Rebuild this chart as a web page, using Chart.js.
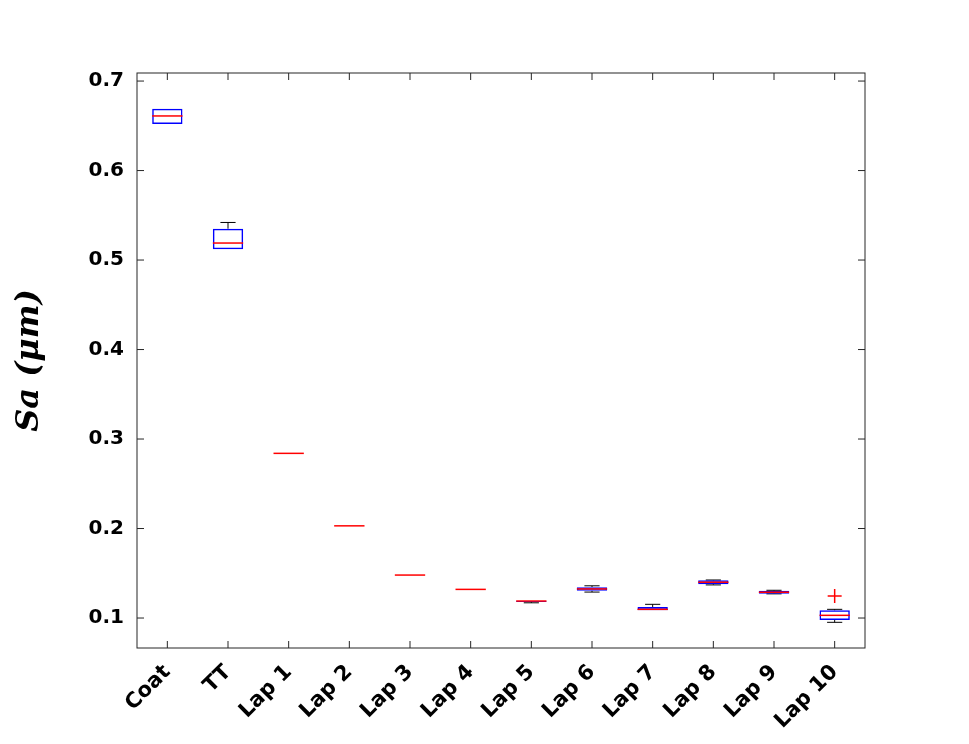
<!DOCTYPE html>
<html>
<head>
<meta charset="utf-8">
<script src="https://cdn.jsdelivr.net/npm/chart.js@4"></script>
<style>
  html, body { margin: 0; padding: 0; background: #fff; }
  #wrap { width: 969px; height: 744px; position: relative; }
</style>
</head>
<body>
<div id="wrap"><canvas id="boxChart"></canvas></div>
<script>
// box plot of Sa per stage
const categories = ['Coat', 'TT', 'Lap 1', 'Lap 2', 'Lap 3', 'Lap 4', 'Lap 5', 'Lap 6', 'Lap 7', 'Lap 8', 'Lap 9', 'Lap 10'];
const whiskerLow  = [0.652, 0.512, 0.284, 0.203, 0.148, 0.132, 0.117, 0.129,  0.1086, 0.137,  0.127,  0.0952];
const q1          = [0.652, 0.512, 0.284, 0.203, 0.148, 0.132, 0.118, 0.1305, 0.1086, 0.1377, 0.1272, 0.0978];
const medians     = [0.661, 0.519, 0.284, 0.203, 0.148, 0.132, 0.119, 0.1325, 0.1097, 0.140,  0.1288, 0.103];
const q3          = [0.669, 0.535, 0.284, 0.203, 0.148, 0.132, 0.119, 0.1345, 0.1123, 0.1421, 0.1305, 0.1086];
const whiskerHigh = [0.669, 0.542, 0.284, 0.203, 0.148, 0.132, 0.119, 0.136,  0.1153, 0.1425, 0.131,  0.1097];
const outliers    = [null, null, null, null, null, null, null, null, null, null, null, 0.1246];
const yTicks = [0.1, 0.2, 0.3, 0.4, 0.5, 0.6, 0.7];

const boxPlugin = {
    id: 'boxParts',
    beforeDatasetsDraw(chart) {
        // whiskers + caps, under the boxes
        const ctx = chart.ctx, x = chart.scales.x, y = chart.scales.y;
        const bars = chart.getDatasetMeta(0).data;
        ctx.save();
        ctx.strokeStyle = '#000';
        ctx.lineWidth = 1;
        categories.forEach(function(c, i) {
            const cx = x.getPixelForValue(i);
            const half = bars[i].width / 4;
            const yl = y.getPixelForValue(whiskerLow[i]), yq1 = y.getPixelForValue(q1[i]);
            const yh = y.getPixelForValue(whiskerHigh[i]), yq3 = y.getPixelForValue(q3[i]);
            ctx.beginPath();
            if (whiskerHigh[i] > q3[i]) {
                ctx.moveTo(cx, yq3); ctx.lineTo(cx, yh);
                ctx.moveTo(cx - half, yh); ctx.lineTo(cx + half, yh);
            }
            if (whiskerLow[i] < q1[i]) {
                ctx.moveTo(cx, yq1); ctx.lineTo(cx, yl);
                ctx.moveTo(cx - half, yl); ctx.lineTo(cx + half, yl);
            }
            ctx.stroke();
        });
        ctx.restore();
    },
    afterDatasetsDraw(chart) {
        const ctx = chart.ctx, x = chart.scales.x, y = chart.scales.y;
        const bars = chart.getDatasetMeta(0).data;
        const a = chart.chartArea;
        ctx.save();
        // medians
        ctx.strokeStyle = '#ff0000';
        ctx.lineWidth = 1.5;
        categories.forEach(function(c, i) {
            const cx = x.getPixelForValue(i);
            const half = bars[i].width / 2;
            const ym = y.getPixelForValue(medians[i]);
            ctx.beginPath();
            ctx.moveTo(cx - half, ym); ctx.lineTo(cx + half, ym);
            ctx.stroke();
        });
        // frame and inward ticks
        ctx.strokeStyle = '#262626';
        ctx.lineWidth = 1;
        ctx.strokeRect(a.left, a.top, a.right - a.left, a.bottom - a.top);
        const t = 7;
        ctx.beginPath();
        x.ticks.forEach(function(tk, i) {
            const px = x.getPixelForTick(i);
            ctx.moveTo(px, a.bottom); ctx.lineTo(px, a.bottom - t);
            ctx.moveTo(px, a.top); ctx.lineTo(px, a.top + t);
        });
        y.ticks.forEach(function(tk) {
            const py = y.getPixelForValue(tk.value);
            ctx.moveTo(a.left, py); ctx.lineTo(a.left + t, py);
            ctx.moveTo(a.right, py); ctx.lineTo(a.right - t, py);
        });
        ctx.stroke();
        ctx.restore();
    }
};

new Chart(document.getElementById('boxChart'), {
    data: {
        labels: categories,
        datasets: [{
            type: 'bar',
            label: 'box',
            data: q1.map(function(v, i) { return [v, q3[i]]; }),
            backgroundColor: 'rgba(0,0,0,0)',
            borderColor: '#0000ff',
            borderWidth: 1.5,
            borderSkipped: false,
            barPercentage: 0.5,
            categoryPercentage: 1.0,
            order: 2
        }, {
            type: 'line',
            label: 'outliers',
            data: outliers,
            showLine: false,
            pointStyle: 'cross',
            pointRadius: 7,
            pointBorderWidth: 1.5,
            borderColor: '#ff0000',
            backgroundColor: '#ff0000',
            order: 1
        }]
    },
    options: {
        responsive: true,
        maintainAspectRatio: false,
        animation: false,
        layout: { padding: { left: 0, top: 73, right: 104, bottom: 0 } },
        scales: {
            x: {
                offset: true,
                grid: { display: false, drawTicks: false },
                border: { display: false },
                ticks: {
                    autoSkip: false,
                    minRotation: 45,
                    maxRotation: 45,
                    padding: 12,
                    color: '#000',
                    font: { family: 'DejaVu Sans', size: 21, weight: 'bold' }
                },
                afterFit: function(scale) { scale.height = 96; }
            },
            y: {
                min: 0.0665,
                max: 0.709,
                grid: { display: false, drawTicks: false },
                border: { display: false },
                afterBuildTicks: function(scale) {
                    scale.ticks = yTicks.map(function(v) { return { value: v }; });
                },
                ticks: {
                    padding: 13,
                    color: '#000',
                    font: { family: 'DejaVu Sans', size: 20, weight: 'bold' },
                    callback: function(value) { return value.toFixed(1); }
                },
                title: {
                    display: true,
                    text: 'Sa (μm)',
                    color: '#000',
                    padding: { top: 10, bottom: 0 },
                    font: { family: 'DejaVu Serif', size: 32, weight: 'bold', style: 'italic' }
                },
                afterFit: function(scale) { scale.width = 137; }
            }
        },
        plugins: {
            legend: { display: false },
            tooltip: { enabled: false }
        }
    },
    plugins: [boxPlugin]
});
</script>
</body>
</html>
